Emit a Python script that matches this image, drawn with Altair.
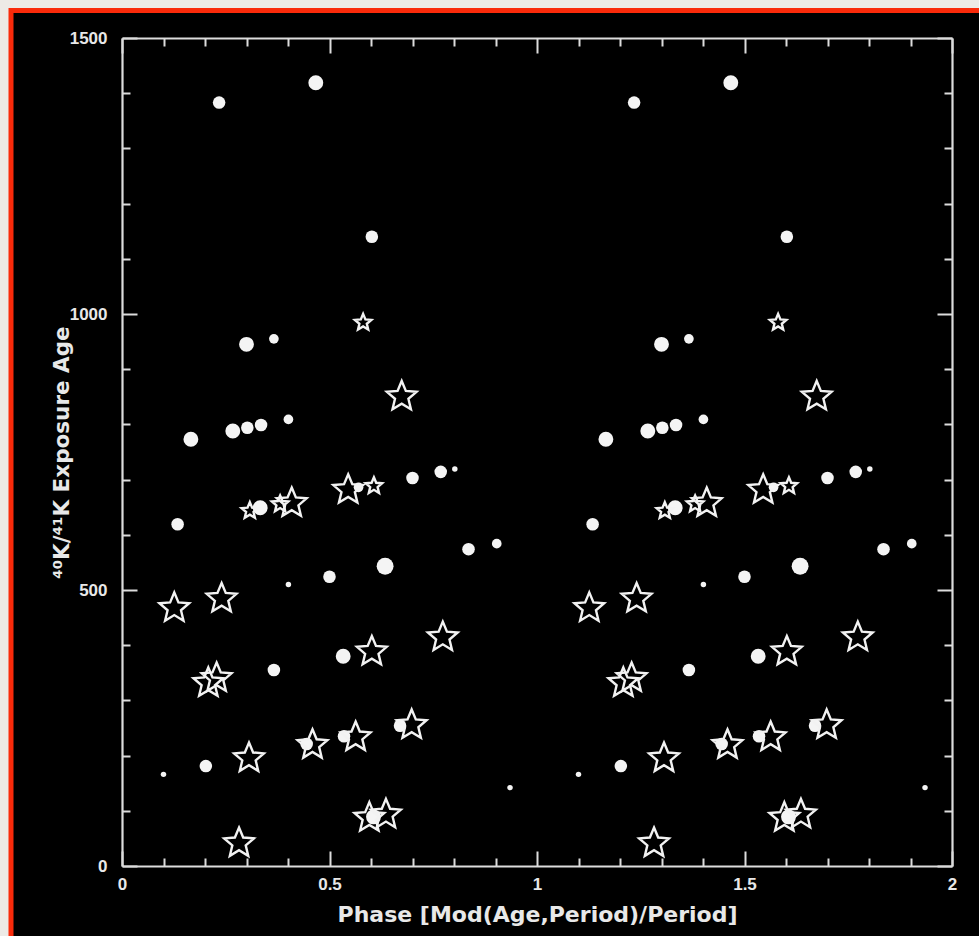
import math

import altair as alt
import pandas as pd

# Samples drawn as filled circles: phase, 40K/41K exposure age, relative weight
circle_phase = [0.234, 0.467, 0.602, 0.300, 0.366, 0.166, 0.267, 0.302, 0.335, 0.401,
                0.768, 0.802, 0.700, 0.570, 0.333, 0.134, 0.835, 0.903, 0.634, 0.500,
                0.401, 0.533, 0.366, 0.670, 0.535, 0.445, 0.202, 0.100, 0.935, 0.606]
circle_age = [1383, 1419, 1140, 945, 955, 773, 788, 794, 799, 809,
              714, 719, 703, 686, 649, 619, 574, 584, 543, 524,
              510, 380, 355, 254, 235, 221, 181, 166, 142, 89]
circle_weight = [3, 4, 3, 4, 2, 4, 4, 3, 3, 2,
                 3, 1, 3, 2, 4, 3, 3, 2, 5, 3,
                 1, 4, 3, 3, 3, 3, 3, 1, 1, 4]

# Samples drawn as open stars
star_phase = [0.581, 0.674, 0.545, 0.607, 0.308, 0.381, 0.409, 0.126, 0.240, 0.773,
              0.602, 0.208, 0.228, 0.698, 0.563, 0.459, 0.306, 0.596, 0.636, 0.282]
star_age = [986, 853, 684, 690, 645, 657, 660, 470, 487, 417,
            391, 334, 343, 258, 236, 222, 198, 90, 96, 44]
star_weight = [1, 2, 2, 1, 1, 1, 2, 2, 2, 2,
               2, 2, 2, 2, 2, 2, 2, 2, 2, 2]

# Axis tick positions
x_major = [0, 0.5, 1, 1.5, 2]
x_minor = [round(i * 0.1, 1) for i in range(21)]
y_major = [0, 500, 1000, 1500]
y_minor = list(range(0, 1501, 100))

W, H = 830, 828


def two_cycles(phase, age, weight):
    """Repeat every sample over a second phase cycle."""
    rows = []
    for cycle in (0, 1):
        for p, a, w in zip(phase, age, weight):
            rows.append({"phase": p + cycle, "age": a, "weight": w})
    return pd.DataFrame(rows)


circles = two_cycles(circle_phase, circle_age, circle_weight)
stars = two_cycles(star_phase, star_age, star_weight)

# Five-pointed star outline inside the [-1, 1] box
pts = []
for k in range(10):
    r = 1.0 if k % 2 == 0 else 0.45
    ang = math.radians(-90 + 36 * k)
    pts.append((r * math.cos(ang), r * math.sin(ang) + 0.095))
STAR = "M" + "L".join(f"{x:.3f},{y:.3f}" for x, y in pts) + "Z"

INK = "#e8e8e8"
common = dict(
    labelFont="Liberation Sans", labelFontWeight="bold", labelFontSize=17,
    labelColor=INK, titleFont="DejaVu Sans", titleFontWeight="bold",
    titleColor=INK, domainColor="#dcdcdc", domainWidth=2.2,
    tickColor="#dcdcdc", tickWidth=2, grid=False, zindex=1,
)
x_tick = {"condition": {"test": "round(datum.value * 10) % 5 === 0", "value": 15}, "value": 8}
y_tick = {"condition": {"test": "datum.value % 500 === 0", "value": 15}, "value": 8}

xs = alt.Scale(domain=[0, 2], nice=False, zero=False)
ys = alt.Scale(domain=[0, 1500], nice=False)

# Labelled axes (bottom / left) carrying the frame lines
x_lab = alt.Axis(orient="bottom", values=x_major, format="~g", ticks=False, tickSize=0,
                 labelPadding=10, labelFlush=False, domain=True,
                 title="Phase [Mod(Age,Period)/Period]", titleY=48, titleFontSize=22,
                 titleBaseline="middle", **common)
y_lab = alt.Axis(orient="left", values=y_major, format="d", ticks=False, tickSize=0,
                 labelPadding=15, labelFlush=False, domain=True,
                 title="⁴⁰K/⁴¹K Exposure Age", titleX=-60, titleFontSize=21.5,
                 titleBaseline="middle", **common)
# Inward ticks along the bottom and left edges
x_in_bottom = alt.Axis(orient="top", offset=-H, values=x_minor, labels=False,
                       domain=False, tickSize=x_tick, title="", **common)
y_in_left = alt.Axis(orient="right", offset=-W, values=y_minor, labels=False,
                     domain=False, tickSize=y_tick, title="", **common)
# Inward ticks and frame lines along the top and right edges
x_in_top = alt.Axis(orient="bottom", offset=-H, values=x_minor, labels=False,
                    domain=True, tickSize=x_tick, title="", **common)
y_in_right = alt.Axis(orient="left", offset=-W, values=y_minor, labels=False,
                      domain=True, tickSize=y_tick, title="", **common)

panel = alt.Chart(pd.DataFrame({"panel": [0]})).mark_rect(
    fill="black", stroke="#f92a0a", strokeWidth=5
).encode(
    x=alt.value(-111), x2=alt.value(W + 60),
    y=alt.value(-27.5), y2=alt.value(H + 100),
)

dots = alt.Chart(circles).mark_circle(color="#f4f4f4", opacity=1).encode(
    x=alt.X("phase:Q", scale=xs, axis=x_lab),
    y=alt.Y("age:Q", scale=ys, axis=y_lab),
    size=alt.Size("weight:Q", scale=alt.Scale(domain=[1, 5], range=[30, 285]), legend=None),
)

star_marks = alt.Chart(stars).mark_point(
    shape=STAR, filled=False, color="#f2f2f2", strokeWidth=2.4, opacity=1
).encode(
    x=alt.X("phase:Q", scale=xs, axis=x_in_bottom),
    y=alt.Y("age:Q", scale=ys, axis=y_in_left),
    size=alt.Size("weight:Q", scale=alt.Scale(domain=[1, 2], range=[300, 980]), legend=None),
)

frame = alt.Chart(circles).mark_point(opacity=0).encode(
    x=alt.X("phase:Q", scale=xs, axis=x_in_top),
    y=alt.Y("age:Q", scale=ys, axis=y_in_right),
)

chart = alt.layer(panel, dots, star_marks, frame).resolve_scale(
    size="independent"
).resolve_axis(
    x="independent", y="independent"
).properties(
    width=W, height=H,
    padding={"left": 122, "top": 38, "right": 27, "bottom": 70},
    autosize=alt.AutoSizeParams(type="none"),
    background="#edeae6",
).configure_view(strokeWidth=0)

chart.save("out.html", embed_options={"renderer": "svg", "actions": False})
